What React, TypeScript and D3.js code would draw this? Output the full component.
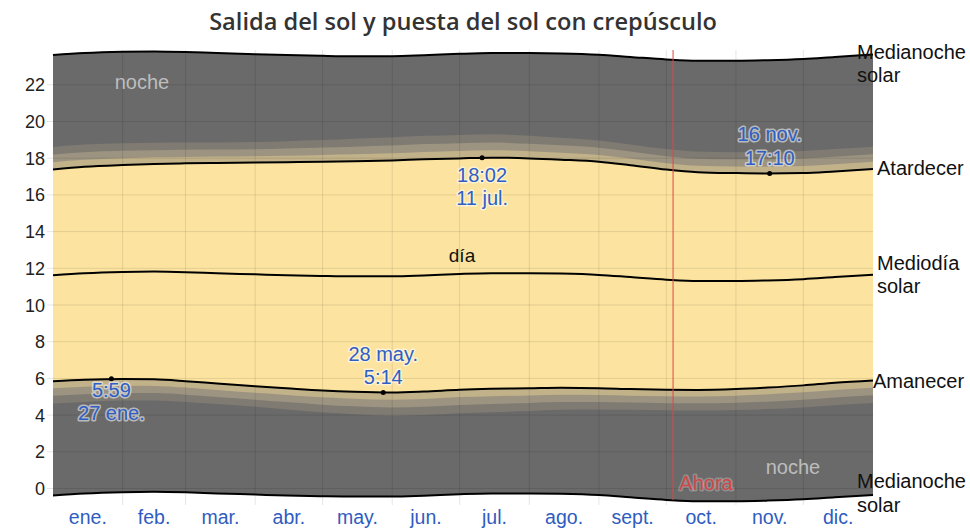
import React from "react";
import * as d3 from "d3";

// day of year (0 = 1 Jan) for every reading
const days = [0, 14, 31, 45, 59, 73, 90, 104, 120, 134, 151, 165, 181, 195, 212, 226, 243, 257, 273, 287, 304, 318, 334, 348, 365];
// hours
const sunrise = [5.85, 5.93, 5.97, 5.95, 5.85, 5.72, 5.57, 5.46, 5.34, 5.27, 5.23, 5.28, 5.38, 5.43, 5.46, 5.49, 5.47, 5.42, 5.38, 5.37, 5.42, 5.5, 5.62, 5.76, 5.88];
const sunset = [17.39, 17.53, 17.63, 17.69, 17.72, 17.74, 17.76, 17.78, 17.81, 17.84, 17.88, 17.94, 17.99, 18.03, 17.99, 17.92, 17.81, 17.62, 17.38, 17.24, 17.19, 17.17, 17.19, 17.28, 17.41];
const solarNoon = [11.62, 11.73, 11.8, 11.82, 11.79, 11.73, 11.67, 11.62, 11.58, 11.56, 11.56, 11.61, 11.69, 11.73, 11.73, 11.71, 11.64, 11.52, 11.38, 11.31, 11.31, 11.34, 11.41, 11.52, 11.65];
// twilight lengths after sunset / before sunrise (hours, cumulative)
const civilTw = [0.39, 0.38, 0.37, 0.36, 0.35, 0.35, 0.35, 0.36, 0.37, 0.38, 0.39, 0.4, 0.4, 0.4, 0.39, 0.38, 0.37, 0.36, 0.35, 0.35, 0.36, 0.37, 0.38, 0.39, 0.39];
const nauticalTw = [0.8, 0.79, 0.77, 0.75, 0.74, 0.73, 0.73, 0.75, 0.77, 0.79, 0.81, 0.83, 0.83, 0.82, 0.8, 0.78, 0.76, 0.74, 0.73, 0.73, 0.75, 0.77, 0.79, 0.8, 0.8];
const astroTw = [1.22, 1.21, 1.18, 1.15, 1.13, 1.12, 1.12, 1.15, 1.18, 1.22, 1.26, 1.28, 1.28, 1.27, 1.24, 1.2, 1.16, 1.13, 1.12, 1.12, 1.14, 1.17, 1.2, 1.22, 1.22];

const monthStarts = [0, 31, 59, 90, 120, 151, 181, 212, 243, 273, 304, 334, 365];
const monthLabels = ["ene.", "feb.", "mar.", "abr.", "may.", "jun.", "jul.", "ago.", "sept.", "oct.", "nov.", "dic."];
const hourTicks = [0, 2, 4, 6, 8, 10, 12, 14, 16, 18, 20, 22];

const highlights = [
  { day: 26, value: 5.98, lines: ["5:59", "27 ene."], below: true },
  { day: 147, value: 5.23, lines: ["28 may.", "5:14"], below: false },
  { day: 191, value: 18.03, lines: ["18:02", "11 jul."], below: true },
  { day: 319, value: 17.17, lines: ["16 nov.", "17:10"], below: false },
];
const nowDay = 276;

const left = 53, right = 873, top = 48.1, bottom = 488.5;
const font = "'Liberation Sans', Arial, sans-serif";
const blue = "#2f5fc4";

const App = () => {
  const x = d3.scaleLinear().domain([0, 365]).range([left, right]);
  const y = d3.scaleLinear().domain([0, 24]).range([bottom, top]);
  const idx = d3.range(days.length);

  const band = (lo: (i: number) => number, hi: (i: number) => number) =>
    d3.area<number>()
      .x(i => x(days[i]))
      .y0(i => y(lo(i)))
      .y1(i => y(hi(i)))
      .curve(d3.curveMonotoneX)(idx) as string;
  const line = (f: (i: number) => number) =>
    d3.line<number>().x(i => x(days[i])).y(i => y(f(i))).curve(d3.curveMonotoneX)(idx) as string;

  const halo = { stroke: "white", strokeWidth: 3, strokeOpacity: 0.55, paintOrder: "stroke", strokeLinejoin: "round" } as any;

  return (
    <svg width={970} height={529} style={{ position: "absolute", left: 0, top: 0, fontFamily: font }}>
      <text x={463} y={30} textAnchor="middle" fontFamily="'Open Sans', sans-serif" fontWeight={600} fontSize={23.6} fill="#333">
        Salida del sol y puesta del sol con crepúsculo
      </text>

      {/* night */}
      <path d={band(i => solarNoon[i] - 12, i => solarNoon[i] + 12)} fill="#6a6a6a" />
      {/* twilight */}
      <path d={band(i => sunrise[i] - astroTw[i], i => sunset[i] + astroTw[i])} fill="#7f7b73" />
      <path d={band(i => sunrise[i] - nauticalTw[i], i => sunset[i] + nauticalTw[i])} fill="#9c9481" />
      <path d={band(i => sunrise[i] - civilTw[i], i => sunset[i] + civilTw[i])} fill="#c2b28a" />
      {/* day */}
      <path d={band(i => sunrise[i], i => sunset[i])} fill="#fce4a0" />

      {/* grid */}
      {hourTicks.map(h => (
        <line key={h} x1={47} x2={right} y1={y(h)} y2={y(h)} stroke="#000" strokeOpacity={0.1} />
      ))}
      {monthStarts.slice(1, 12).map(d => (
        <line key={d} x1={x(d)} x2={x(d)} y1={50} y2={505} stroke="#000" strokeOpacity={0.1} />
      ))}

      {/* curves */}
      {[(i: number) => solarNoon[i] + 12, (i: number) => solarNoon[i] - 12, (i: number) => solarNoon[i],
        (i: number) => sunrise[i], (i: number) => sunset[i]].map((f, k) => (
        <path key={k} d={line(f)} fill="none" stroke="#000" strokeWidth={2} />
      ))}

      {/* now */}
      <line x1={x(nowDay)} x2={x(nowDay)} y1={50} y2={500} stroke="#e04545" strokeWidth={1} />
      <text x={x(nowDay) + 33} y={490} textAnchor="middle" fontSize={20} fill="#d04848" {...halo} strokeOpacity={0.25}>Ahora</text>

      {/* y axis */}
      {hourTicks.map(h => (
        <text key={h} x={45} y={y(h) + 6.5} textAnchor="end" fontSize={18} fill="#222">{h}</text>
      ))}
      {/* months */}
      {monthLabels.map((m, i) => (
        <text key={m} x={x((monthStarts[i] + monthStarts[i + 1]) / 2)} y={524} textAnchor="middle" fontSize={19.5} fill="#2f5cc0">{m}</text>
      ))}

      {/* region labels */}
      <text x={142} y={89} textAnchor="middle" fontSize={20} fill="#bdbdbd">noche</text>
      <text x={793} y={474} textAnchor="middle" fontSize={20} fill="#bdbdbd">noche</text>
      <text x={462} y={262} textAnchor="middle" fontSize={19} fill="#111">día</text>

      {/* right labels */}
      <g fontSize={20} fill="#111">
        <text x={857} y={59}>Medianoche</text>
        <text x={857} y={82}>solar</text>
        <text x={877} y={175}>Atardecer</text>
        <text x={877} y={270}>Mediodía</text>
        <text x={877} y={293}>solar</text>
        <text x={873} y={388}>Amanecer</text>
        <text x={857} y={488}>Medianoche</text>
        <text x={857} y={512}>solar</text>
      </g>

      {/* highlights */}
      {highlights.map(hl => {
        const px = x(hl.day), py = y(hl.value);
        const y0 = hl.below ? py + (hl.value > 12 ? 24 : 18) : py - 32;
        return (
          <g key={hl.day}>
            <circle cx={px} cy={py} r={2.5} fill="#000" />
            {hl.lines.map((t, k) => (
              <text key={k} x={px} y={y0 + k * 23.5} textAnchor="middle" fontSize={20} fill={blue} {...halo}>{t}</text>
            ))}
          </g>
        );
      })}
    </svg>
  );
};

export default App;
